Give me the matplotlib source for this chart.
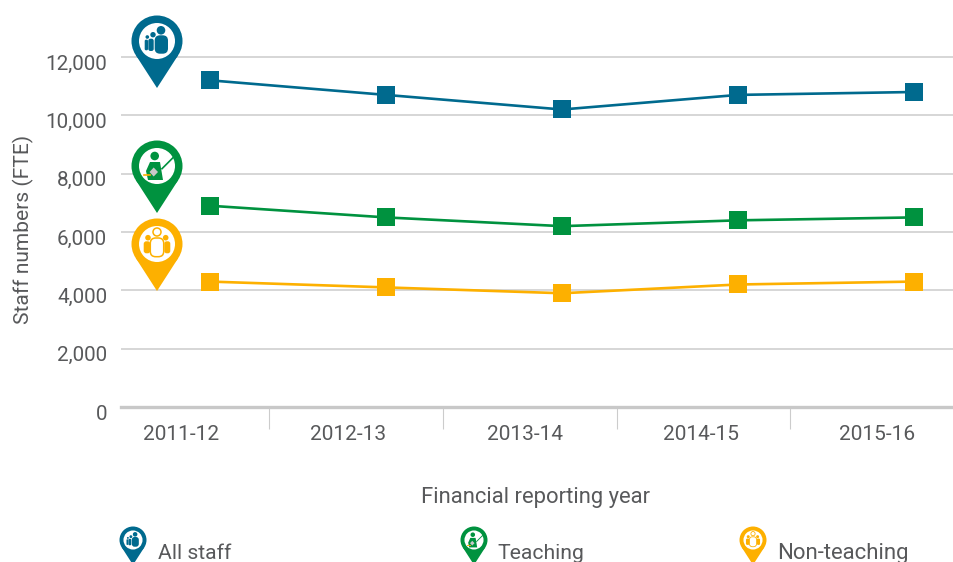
import matplotlib
matplotlib.use('Agg')
import matplotlib.pyplot as plt
from matplotlib.patches import Circle, Polygon, FancyBboxPatch
from matplotlib.transforms import ScaledTranslation

plt.rcParams['font.family'] = ['Roboto', 'DejaVu Sans']

# data
years = ['2011-12', '2012-13', '2013-14', '2014-15', '2015-16']
all_staff = [11200, 10700, 10200, 10700, 10800]
teaching = [6900, 6500, 6200, 6400, 6500]
non_teaching = [4300, 4100, 3900, 4200, 4300]
y_ticks = [0, 2000, 4000, 6000, 8000, 10000, 12000]

BLUE = '#006a8e'
GREEN = '#00923f'
ORANGE = '#fdb000'
TEXT = '#58595b'
GRID = '#cccccc'

W, H = 954, 562
fig = plt.figure(figsize=(W / 100, H / 100), dpi=100)

# axes runs from the left end of the gridlines to the picture edge
ax = fig.add_axes([121 / W, (H - 407) / H, (W - 121) / W, 407 / H])
ax.set_xlim(-0.506, 4.227)
ax.set_ylim(0, 13954)

x = list(range(len(years)))
for vals, col in [(all_staff, BLUE), (teaching, GREEN), (non_teaching, ORANGE)]:
    ax.plot(x, vals, color=col, lw=1.9, marker='s', ms=12.6, mew=0, zorder=3, clip_on=False)

for s in ['top', 'right', 'left']:
    ax.spines[s].set_visible(False)
ax.spines['bottom'].set_color('#c8c8c8')
ax.spines['bottom'].set_linewidth(2.4)

ax.set_yticks(y_ticks)
ax.set_yticklabels(['0' if v == 0 else f'{v:,}' for v in y_ticks], fontsize=14.9, color=TEXT)
ax.tick_params(axis='y', length=0, pad=10)
for lab in ax.get_yticklabels():
    lab.set_transform(lab.get_transform() + ScaledTranslation(0, -5 / 100, fig.dpi_scale_trans))
ax.grid(axis='y', color=GRID, lw=1.1, zorder=1)

# labels sit left of the points, separators between them
ax.set_xticks([-0.165, 0.784, 1.79, 2.79, 3.79])
ax.set_xticklabels(years, fontsize=15, color=TEXT)
ax.tick_params(axis='x', which='major', length=0, pad=13)
ax.set_xticks([0.335, 1.324, 2.313, 3.295], minor=True)
ax.tick_params(axis='x', which='minor', length=16, width=0.8, color=GRID)

# overlay in pixel coordinates for the text and pins
ov = fig.add_axes([0, 0, 1, 1], zorder=5)
ov.set_xlim(0, W)
ov.set_ylim(H, 0)
ov.axis('off')

ov.text(23, 229, 'Staff numbers (FTE)', rotation=90, ha='center', va='center', fontsize=15.1, color=TEXT)
ov.text(536, 498, 'Financial reporting year', ha='center', va='center', fontsize=15.8, color=TEXT)


def body(cx, cy, s, x0, x1, y0, y1, fc, ec='none', lw=0):
    rad = (x1 - x0) * 0.4 * s
    ov.add_patch(FancyBboxPatch((cx + x0 * s, cy + y0 * s), (x1 - x0) * s, (y1 - y0) * s,
                                boxstyle=f'round,pad=0,rounding_size={rad}', fc=fc, ec=ec, lw=lw))


def pin(cx, cy, r, col, kind):
    s = r / 25.5
    ov.add_patch(Circle((cx, cy), r, fc=col, ec='none'))
    ov.add_patch(Polygon([(cx - 21.4 * s, cy + 13.8 * s), (cx + 21.4 * s, cy + 13.8 * s),
                          (cx, cy + 47 * s)], closed=True, fc=col, ec='none'))
    ov.add_patch(Circle((cx, cy), 18 * s, fc='white', ec='none'))
    if kind == 'all':
        for hx, hy, hr, x0, x1, y0, y1 in [(4, -10.7, 4.3, -2.3, 11, -5.7, 12.7),
                                           (-4, -6.3, 2.7, -8.7, -3.3, -2.3, 10),
                                           (-9.7, -4, 1.8, -12.3, -9, -1.3, 9.3)]:
            ov.add_patch(Circle((cx + hx * s, cy + hy * s), hr * s, fc=col, ec='none'))
            body(cx, cy, s, x0, x1, y0, y1, col)
    elif kind == 'teach':
        ov.add_patch(Circle((cx - 2.3 * s, cy - 10 * s), 4.3 * s, fc=col, ec='none'))
        ov.add_patch(Polygon([(cx - 7 * s, cy - 4 * s), (cx + 3 * s, cy - 4 * s), (cx + 6 * s, cy + 14 * s),
                              (cx - 9 * s, cy + 14 * s), (cx - 11 * s, cy + 5 * s)],
                             closed=True, fc=col, ec='none'))
        ov.plot([cx + 5 * s, cx + 16 * s], [cy + 2.7 * s, cy - 8.3 * s], color=col, lw=1.2 * s)
        ov.plot([cx - 13 * s, cx - 7 * s], [cy + 9.3 * s, cy + 9.3 * s], color=ORANGE, lw=1.2 * s)
        ov.add_patch(Polygon([(cx - 3.3 * s, cy + 1.5 * s), (cx + 1 * s, cy + 6 * s),
                              (cx - 3.3 * s, cy + 10.5 * s), (cx - 7.5 * s, cy + 6 * s)],
                             closed=True, fc='#c8c8c8', ec='none'))
    else:
        for hx, x0, x1 in [(-9, -13.3, -6.7), (8.7, 7.3, 13.3)]:
            ov.add_patch(Circle((cx + hx * s, cy - 6.3 * s), 2.8 * s, fc=col, ec='none'))
            body(cx, cy, s, x0, x1, -2.7, 9.3, col)
        ov.add_patch(Circle((cx, cy - 12 * s), 4 * s, fc='white', ec=col, lw=1.1 * s))
        body(cx, cy, s, -6.7, 6.7, -6, 12.7, 'white', ec=col, lw=1.1 * s)


pin(157, 41, 25.5, BLUE, 'all')
pin(157, 166, 25.5, GREEN, 'teach')
pin(157, 244, 25.5, ORANGE, 'non')

pin(133, 540, 13.5, BLUE, 'all')
pin(474, 540, 13.5, GREEN, 'teach')
pin(753, 540, 13.5, ORANGE, 'non')

ov.text(158, 559, 'All staff', fontsize=15.2, color=TEXT)
ov.text(497, 559, 'Teaching', fontsize=15.2, color=TEXT)
ov.text(777, 559, 'Non-teaching', fontsize=15.9, color=TEXT)

fig.savefig('out.png', dpi=100)
